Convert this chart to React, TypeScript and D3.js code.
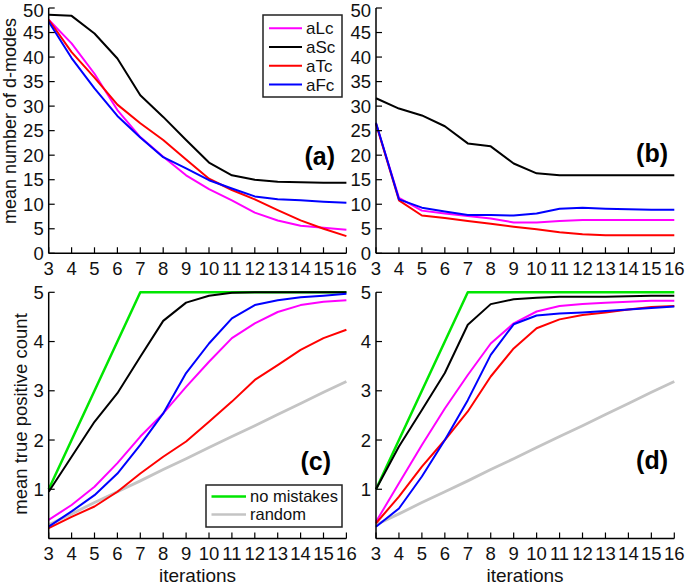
import React from "react";
import * as d3 from "d3";

const iterations = [3, 4, 5, 6, 7, 8, 9, 10, 11, 12, 13, 14, 15, 16];

// Panel (a)
const aLcA = [47.6, 42.8, 36.6, 29.2, 23.7, 19.7, 15.9, 13.1, 10.8, 8.3, 6.7, 5.6, 5.2, 4.8];
const aScA = [48.6, 48.4, 44.8, 39.7, 32.2, 27.8, 23.1, 18.5, 15.9, 15.0, 14.6, 14.5, 14.4, 14.4];
const aTcA = [47.6, 41.0, 35.8, 30.3, 26.5, 23.1, 19.1, 15.2, 12.9, 11.0, 8.8, 6.7, 5.0, 3.5];
const aFcA = [47.2, 39.8, 33.6, 28.0, 23.6, 19.6, 17.3, 14.9, 13.2, 11.6, 11.0, 10.8, 10.5, 10.3];

// Panel (b)
const aLcB = [26.4, 11.3, 8.7, 8.1, 7.6, 7.1, 6.3, 6.3, 6.6, 6.8, 6.8, 6.8, 6.8, 6.8];
const aScB = [31.6, 29.5, 28.1, 25.9, 22.4, 21.8, 18.3, 16.3, 15.9, 15.9, 15.9, 15.9, 15.9, 15.9];
const aTcB = [26.4, 10.8, 7.7, 7.2, 6.6, 6.0, 5.4, 4.9, 4.3, 3.9, 3.7, 3.7, 3.7, 3.7];
const aFcB = [26.6, 11.0, 9.3, 8.5, 7.8, 7.8, 7.7, 8.1, 9.1, 9.3, 9.1, 9.0, 8.9, 8.9];

// Panel (c)
const aLcC = [0.38, 0.68, 1.05, 1.53, 2.07, 2.54, 3.08, 3.59, 4.07, 4.37, 4.60, 4.74, 4.81, 4.84];
const aScC = [0.95, 1.66, 2.37, 2.95, 3.69, 4.42, 4.79, 4.93, 4.99, 5.0, 5.0, 5.0, 5.0, 5.0];
const aTcC = [0.21, 0.44, 0.65, 0.95, 1.32, 1.66, 1.97, 2.37, 2.78, 3.22, 3.52, 3.83, 4.07, 4.24];
const aFcC = [0.24, 0.55, 0.88, 1.32, 1.90, 2.54, 3.36, 3.96, 4.47, 4.74, 4.84, 4.90, 4.93, 4.97];

// Panel (d)
const aLcD = [0.34, 1.12, 1.90, 2.64, 3.32, 3.96, 4.37, 4.61, 4.72, 4.76, 4.79, 4.81, 4.83, 4.83];
const aScD = [1.0, 1.87, 2.61, 3.36, 4.34, 4.76, 4.86, 4.89, 4.91, 4.91, 4.91, 4.92, 4.93, 4.93];
const aTcD = [0.31, 0.85, 1.46, 2.0, 2.58, 3.29, 3.86, 4.27, 4.45, 4.54, 4.59, 4.65, 4.70, 4.72];
const aFcD = [0.24, 0.61, 1.26, 2.0, 2.81, 3.73, 4.35, 4.53, 4.57, 4.59, 4.62, 4.65, 4.68, 4.71];

// Reference curves (c) and (d)
const noMistakes = [1, 2, 3, 4, 5, 5, 5, 5, 5, 5, 5, 5, 5, 5];
const randomTP = [0.28, 0.50, 0.73, 0.95, 1.17, 1.40, 1.62, 1.85, 2.07, 2.29, 2.52, 2.74, 2.97, 3.19];

const topTicks = [0, 5, 10, 15, 20, 25, 30, 35, 40, 45, 50];
const bottomTicks = [1, 2, 3, 4, 5];

const legendNames = ["aLc", "aSc", "aTc", "aFc"];
const refNames = ["no mistakes", "random"];

const COLORS: Record<string, string> = {
  aLc: "#ff00ff",
  aSc: "#000000",
  aTc: "#ff0000",
  aFc: "#0000ff",
  "no mistakes": "#00e600",
  random: "#c4c4c4",
};

const FONT = "'Liberation Sans', Arial, Helvetica, sans-serif";
const TICK_FS = 18.5;

type Series = { name: string; values: number[]; width?: number };

function Panel(props: {
  x0: number;
  x1: number;
  yTop: number;
  yBottom: number;
  domain: [number, number];
  ticks: number[];
  series: Series[];
  label: string;
  labelX: number;
  labelY: number;
}) {
  const { x0, x1, yTop, yBottom, domain, ticks, series, label, labelX, labelY } = props;
  const x = d3.scaleLinear().domain([3, 16]).range([x0, x1]);
  const y = d3.scaleLinear().domain(domain).range([yBottom, yTop]);
  const line = d3
    .line<number>()
    .x((_, i) => x(iterations[i]))
    .y((v) => y(v));
  const tl = 6;
  return (
    <g>
      {series.map((s) => (
        <path
          key={s.name}
          d={line(s.values) || ""}
          fill="none"
          stroke={COLORS[s.name]}
          strokeWidth={s.width ?? 2}
          strokeLinejoin="round"
        />
      ))}
      {/* axes */}
      <line x1={x0} x2={x0} y1={y(domain[1])} y2={yBottom} stroke="#000" strokeWidth={1.5} />
      <line x1={x0} x2={x1} y1={yBottom} y2={yBottom} stroke="#000" strokeWidth={1.5} />
      {iterations.map((t) => (
        <g key={"xt" + t}>
          <line x1={x(t)} x2={x(t)} y1={yBottom} y2={yBottom - tl} stroke="#000" strokeWidth={1.2} />
          <text
            x={x(t)}
            y={yBottom + 21.5}
            textAnchor="middle"
            fontSize={TICK_FS}
            fontFamily={FONT}
            fill="#111"
          >
            {t}
          </text>
        </g>
      ))}
      {ticks.map((t) => (
        <g key={"yt" + t}>
          <line x1={x0} x2={x0 + tl} y1={y(t)} y2={y(t)} stroke="#000" strokeWidth={1.2} />
          <text
            x={x0 - 5}
            y={Math.max(y(t), 10.5)}
            dy="0.36em"
            textAnchor="end"
            fontSize={TICK_FS}
            fontFamily={FONT}
            fill="#111"
          >
            {t}
          </text>
        </g>
      ))}
      <text
        x={labelX}
        y={labelY}
        textAnchor="end"
        fontSize={25}
        fontWeight="bold"
        fontFamily={FONT}
        fill="#000"
        dy="0.35em"
      >
        {label}
      </text>
    </g>
  );
}

export default function App() {
  const leftX0 = 48.7;
  const leftX1 = 346.4;
  const rightX0 = 376;
  const rightX1 = 674.3;
  const topY0 = 8;
  const topY1 = 253.3;
  const botY0 = 292.3;
  const botY1 = 538.5;

  const mk = (vals: number[][]): Series[] =>
    legendNames.map((n, i) => ({ name: n, values: vals[i] }));

  const refs: Series[] = [
    { name: "no mistakes", values: noMistakes, width: 2.5 },
    { name: "random", values: randomTP, width: 2.8 },
  ];

  return (
    <svg
      width={685}
      height={586}
      style={{ position: "absolute", left: 0, top: 0, background: "#fff" }}
    >
      <rect x={0} y={0} width={685} height={586} fill="#fff" />
      <Panel
        x0={leftX0}
        x1={leftX1}
        yTop={topY0}
        yBottom={topY1}
        domain={[0, 50]}
        ticks={topTicks}
        series={mk([aLcA, aScA, aTcA, aFcA])}
        label="(a)"
        labelX={335}
        labelY={156}
      />
      <Panel
        x0={rightX0}
        x1={rightX1}
        yTop={topY0}
        yBottom={topY1}
        domain={[0, 50]}
        ticks={topTicks}
        series={mk([aLcB, aScB, aTcB, aFcB])}
        label="(b)"
        labelX={668}
        labelY={153}
      />
      <Panel
        x0={leftX0}
        x1={leftX1}
        yTop={botY0}
        yBottom={botY1}
        domain={[0, 5]}
        ticks={bottomTicks}
        series={[...refs, ...mk([aLcC, aScC, aTcC, aFcC])]}
        label="(c)"
        labelX={331}
        labelY={461}
      />
      <Panel
        x0={rightX0}
        x1={rightX1}
        yTop={botY0}
        yBottom={botY1}
        domain={[0, 5]}
        ticks={bottomTicks}
        series={[...refs, ...mk([aLcD, aScD, aTcD, aFcD])]}
        label="(d)"
        labelX={668}
        labelY={460}
      />

      {/* legend (a) */}
      <g>
        <rect x={263} y={15} width={79} height={82} fill="#fff" stroke="#222" strokeWidth={1.5} />
        {legendNames.map((n, i) => (
          <g key={n}>
            <line
              x1={269}
              x2={302}
              y1={28.3 + i * 18.7}
              y2={28.3 + i * 18.7}
              stroke={COLORS[n]}
              strokeWidth={2}
            />
            <text
              x={306}
              y={28.3 + i * 18.7}
              dy="0.36em"
              fontSize={17}
              fontFamily={FONT}
              fill="#111"
            >
              {n}
            </text>
          </g>
        ))}
      </g>

      {/* legend (c) */}
      <g>
        <rect x={206} y={485} width={136} height={42} fill="#fff" stroke="#222" strokeWidth={1.5} />
        {refNames.map((n, i) => (
          <g key={n}>
            <line
              x1={211.5}
              x2={246}
              y1={496.5 + i * 18}
              y2={496.5 + i * 18}
              stroke={COLORS[n]}
              strokeWidth={2.6}
            />
            <text
              x={250}
              y={496.5 + i * 18}
              dy="0.36em"
              fontSize={16.5}
              fontFamily={FONT}
              fill="#111"
            >
              {n}
            </text>
          </g>
        ))}
      </g>

      {/* axis titles */}
      <text
        transform="translate(16,121) rotate(-90)"
        textAnchor="middle"
        fontSize={18}
        fontFamily={FONT}
        fill="#111"
      >
        mean number of d-modes
      </text>
      <text
        transform="translate(27,414) rotate(-90)"
        textAnchor="middle"
        fontSize={18.5}
        fontFamily={FONT}
        fill="#111"
      >
        mean true positive count
      </text>
      <text x={197.5} y={582} textAnchor="middle" fontSize={19} fontFamily={FONT} fill="#111">
        iterations
      </text>
      <text x={525} y={582} textAnchor="middle" fontSize={19} fontFamily={FONT} fill="#111">
        iterations
      </text>
    </svg>
  );
}
